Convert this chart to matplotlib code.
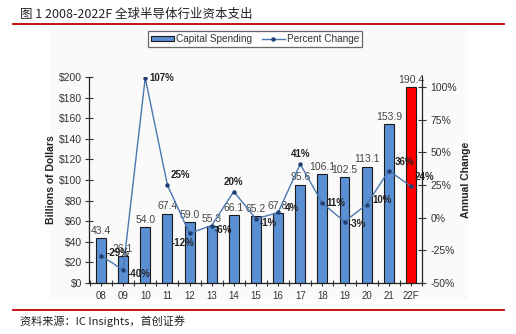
import matplotlib.pyplot as plt
from matplotlib.lines import Line2D
from matplotlib.patches import Patch, Rectangle

plt.rcParams['font.family'] = ['Liberation Sans', 'DejaVu Sans']

years = ['08', '09', '10', '11', '12', '13', '14', '15', '16', '17', '18', '19', '20', '21', '22F']
spending = [43.4, 26.1, 54.0, 67.4, 59.0, 55.3, 66.1, 65.2, 67.8, 95.6, 106.1, 102.5, 113.1, 153.9, 190.4]
pct_change = [-29, -40, 107, 25, -12, -6, 20, -1, 4, 41, 11, -3, 10, 36, 24]

# label offsets in points (dx, dy, ha) for the percent labels
pct_offsets = [(4, 2, 'left'), (3, -3, 'left'), (3, 0, 'left'), (2, 7, 'left'), (-5, -7, 'center'),
               (2, -3, 'left'), (0, 7, 'center'), (3, -3, 'left'), (5, 3, 'left'), (0, 7, 'center'),
               (3, 0, 'left'), (3, -2, 'left'), (4, 3, 'left'), (4, 6, 'left'), (3, 7, 'left')]

bar_blue = '#5b8fd4'
line_blue = '#4a78b0'
text_col = '#333333'

fig = plt.figure(figsize=(5.16, 3.34), dpi=100)
fig.patch.set_facecolor('white')

# light panel behind the chart image
fig.patches.append(Rectangle((50 / 516, 1 - 300 / 334), 418 / 516, 272 / 334,
                             transform=fig.transFigure, facecolor='#fafafa',
                             edgecolor='none', zorder=-5))

ax = fig.add_axes([89 / 516, 1 - 283 / 334, 333 / 516, 206 / 334])
ax.set_facecolor('none')
x = list(range(len(years)))
colors = [bar_blue] * (len(years) - 1) + ['#ff0000']
ax.bar(x, spending, width=0.45, color=colors, edgecolor='#1a1a1a', linewidth=0.8, zorder=2)
for xi, v in zip(x, spending):
    ax.annotate(f'{v:.1f}', (xi, v), xytext=(0, 1.5), textcoords='offset points',
                ha='center', va='bottom', fontsize=7.5, color='#444444', zorder=5)

ax.set_xlim(-0.54, 14.5)
ax.set_ylim(0, 200)
ax.set_yticks(range(0, 201, 20))
ax.set_yticklabels([f'${v}' for v in range(0, 201, 20)])
ax.set_xticks(x)
ax.set_xticklabels(years)
ax.set_xticks([i + 0.5 for i in range(-1, 15)], minor=True)
ax.tick_params(axis='x', which='both', direction='inout', length=5, width=0.8, labelsize=7, colors=text_col, pad=3)
ax.tick_params(axis='y', direction='inout', length=6, width=0.8, labelsize=7.5, colors=text_col, pad=2)
for s in ['top', 'right']:
    ax.spines[s].set_visible(False)
for s in ['left', 'bottom']:
    ax.spines[s].set_color('#222222')
    ax.spines[s].set_linewidth(0.9)
ax.set_ylabel('Billions of Dollars', fontsize=7.5, fontweight='bold', color='#222222', labelpad=2)

ax2 = ax.twinx()
ax2.set_ylim(-50, 107.65)
ax2.set_yticks(range(-50, 101, 25))
ax2.set_yticklabels([f'{v}%' for v in range(-50, 101, 25)])
ax2.plot(x, pct_change, color=line_blue, linewidth=1.0, marker='o', markersize=2.2,
         markerfacecolor='#1f3f70', markeredgecolor='#1f3f70', zorder=4)
for xi, p, (dx, dy, ha) in zip(x, pct_change, pct_offsets):
    ax2.annotate(f'{p}%', (xi, p), xytext=(dx, dy), textcoords='offset points',
                 ha=ha, va='center', fontsize=7, fontweight='bold', color='#222222', zorder=6)
ax2.tick_params(axis='y', direction='inout', length=6, width=0.8, labelsize=7.5, colors=text_col, pad=3)
for s in ['top', 'left', 'bottom']:
    ax2.spines[s].set_visible(False)
ax2.spines['right'].set_color('#222222')
ax2.spines['right'].set_linewidth(0.9)
ax2.set_ylabel('Annual Change', fontsize=7.5, fontweight='bold', color='#222222', labelpad=3)

handles = [Patch(facecolor=bar_blue, edgecolor='#1a1a1a', linewidth=0.8),
           Line2D([0], [0], color=line_blue, linewidth=1.0, marker='o', markersize=2.2,
                  markerfacecolor='#1f3f70', markeredgecolor='#1f3f70')]
leg = fig.legend(handles, ['Capital Spending', 'Percent Change'], loc='center',
                 bbox_to_anchor=(255 / 516, 1 - 39 / 334), ncol=2, fontsize=7.2,
                 frameon=True, fancybox=False, edgecolor='#444444', handlelength=2.3,
                 handleheight=0.5, columnspacing=1.0, handletextpad=0.2,
                 borderpad=0.3)
leg.get_frame().set_linewidth(0.9)
for t in leg.get_texts():
    t.set_color(text_col)

# title, red rules and source line
cjk = ['Noto Sans CJK SC', 'DejaVu Sans']
fig.text(20 / 516, 1 - 14 / 334, '图 1 2008-2022F 全球半导体行业资本支出', family=cjk,
         fontsize=9, va='center', ha='left', color='#222222')
fig.add_artist(Line2D([13 / 516, 504 / 516], [1 - 24 / 334, 1 - 24 / 334],
                      color='#c00000', linewidth=1.3, transform=fig.transFigure))
fig.add_artist(Line2D([13 / 516, 504 / 516], [1 - 310 / 334, 1 - 310 / 334],
                      color='#c00000', linewidth=1.3, transform=fig.transFigure))
fig.text(20 / 516, 1 - 321 / 334, '资料来源：IC Insights，首创证券', family=cjk,
         fontsize=8, style='italic', va='center', ha='left', color='#222222')

fig.savefig('out.png', dpi=100)
